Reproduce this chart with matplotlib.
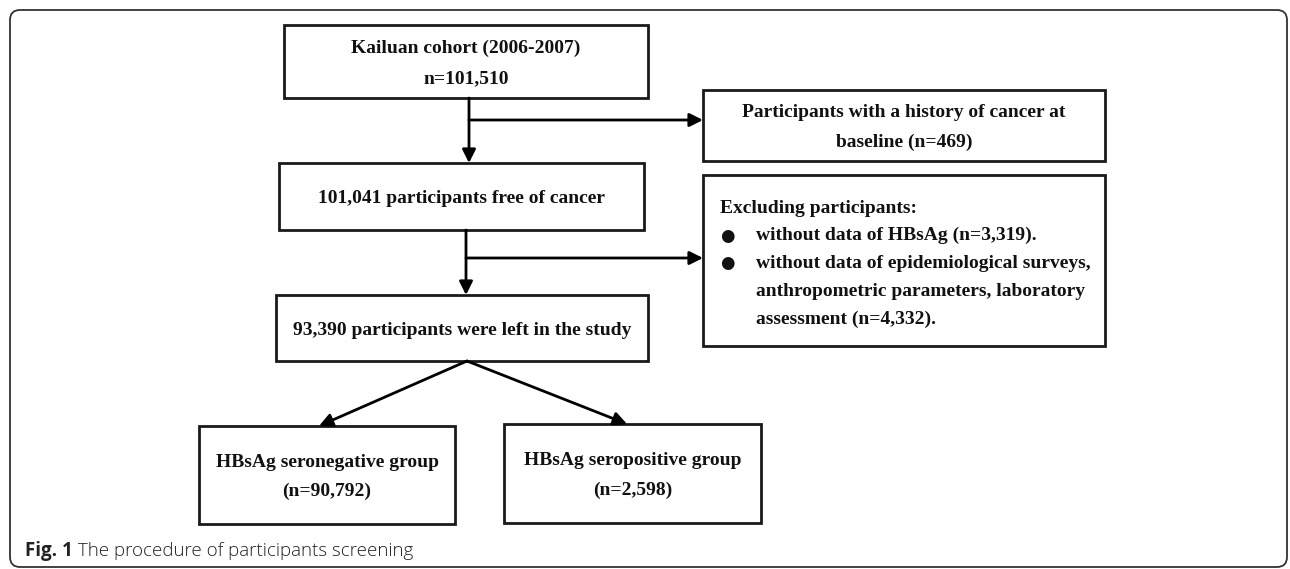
import matplotlib
matplotlib.use('Agg')
import matplotlib.pyplot as plt
from matplotlib.patches import Rectangle, FancyBboxPatch

# flowchart text
box_texts = {
    'cohort': ['Kailuan cohort (2006-2007)', 'n=101,510'],
    'history': ['Participants with a history of cancer at', 'baseline (n=469)'],
    'free': ['101,041 participants free of cancer'],
    'left': ['93,390 participants were left in the study'],
    'neg': ['HBsAg seronegative group', '(n=90,792)'],
    'pos': ['HBsAg seropositive group', '(n=2,598)'],
}
exclude_title = 'Excluding participants:'
exclude_items = [
    ['without data of HBsAg (n=3,319).'],
    ['without data of epidemiological surveys,',
     'anthropometric parameters, laboratory',
     'assessment (n=4,332).'],
]
caption_bold = 'Fig. 1'
caption_text = ' The procedure of participants screening'

# box geometry in pixels: x0, y0, x1, y1
boxes = {
    'cohort': (284, 25, 648, 98),
    'history': (703, 90, 1105, 161),
    'free': (279, 163, 644, 230),
    'exclude': (703, 175, 1105, 346),
    'left': (276, 295, 648, 361),
    'neg': (199, 426, 455, 524),
    'pos': (504, 424, 761, 523),
}
line_gap = 29.5

W, H = 1290, 569
fig = plt.figure(figsize=(W / 100, H / 100), dpi=100)
ax = fig.add_axes([0, 0, 1, 1])
ax.set_xlim(0, W)
ax.set_ylim(H, 0)
ax.axis('off')

serif = ['Liberation Serif', 'DejaVu Serif']
fs = 14.0
ink = '#111111'

# outer frame
ax.add_patch(FancyBboxPatch((10, 10), 1277, 557, boxstyle='round,pad=0,rounding_size=10',
                            fc='white', ec='#333333', lw=1.3))

for key, (x0, y0, x1, y1) in boxes.items():
    ax.add_patch(Rectangle((x0, y0), x1 - x0, y1 - y0, fc='white', ec='#1a1a1a', lw=2))
    if key in box_texts:
        lines = box_texts[key]
        cy = (y0 + y1) / 2 + 2
        n = len(lines)
        for i, t in enumerate(lines):
            y = cy + (i - (n - 1) / 2) * line_gap
            ax.text((x0 + x1) / 2, y, t, ha='center', va='center', family=serif,
                    fontweight='bold', fontsize=fs, color=ink)

# exclusion box text
ex0, ey0 = boxes['exclude'][0], boxes['exclude'][1]
y = ey0 + 33
ax.text(ex0 + 17, y, exclude_title, ha='left', va='center', family=serif,
        fontweight='bold', fontsize=fs, color=ink)
for item in exclude_items:
    y += 27.5
    ax.text(ex0 + 24, y, '\u25cf', ha='center', va='center', family=['DejaVu Sans'],
            fontsize=12, color=ink)
    for j, t in enumerate(item):
        if j > 0:
            y += 28
        ax.text(ex0 + 53, y, t, ha='left', va='center', family=serif,
                fontweight='bold', fontsize=fs, color=ink)

arrow = dict(arrowstyle='-|>', lw=2, color='black', mutation_scale=20,
             shrinkA=0, shrinkB=0)


def arr(x0, y0, x1, y1):
    ax.annotate('', xy=(x1, y1), xytext=(x0, y0), arrowprops=arrow)


# main vertical flow with side branches
arr(469, 98, 469, 163)
arr(469, 120, 703, 120)
arr(466, 230, 466, 295)
arr(466, 258, 703, 258)
# split into two groups
arr(467, 361, 319, 426)
arr(467, 361, 627, 424)

# caption
t1 = ax.text(25, 551, caption_bold, ha='left', va='center', family=['Open Sans', 'DejaVu Sans'],
             fontweight='bold', fontsize=13.5, color='#222222')
ax.annotate(caption_text, xy=(1, 0.5), xycoords=t1, ha='left', va='center',
            family=['Open Sans', 'DejaVu Sans'], fontweight='light', fontsize=13.5, color='#222222')

fig.savefig('out.png', dpi=100)
